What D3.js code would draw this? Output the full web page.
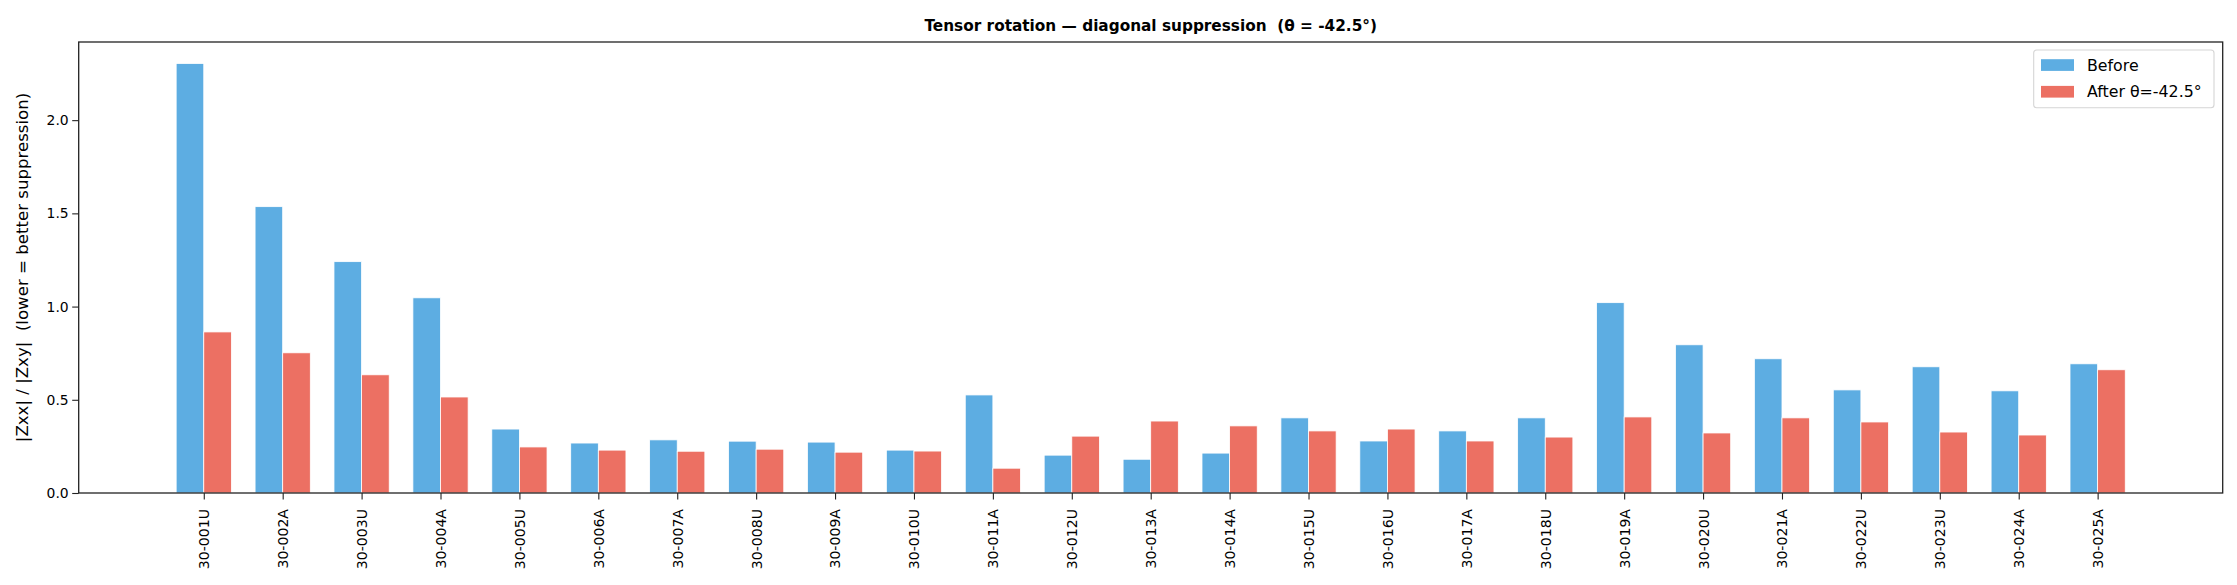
<html lang="en">
<head>
    <meta charset="UTF-8">
    <title>Tensor rotation</title>
    <script src="https://d3js.org/d3.v7.min.js"></script>
    <style>
        body { margin: 0; background: #fff; }
        text { font-family: "DejaVu Sans", sans-serif; fill: #000; }
    </style>
</head>
<body>
    <script>
        // Chart data
        const sites = ["30-001U", "30-002A", "30-003U", "30-004A", "30-005U", "30-006A", "30-007A",
                       "30-008U", "30-009A", "30-010U", "30-011A", "30-012U", "30-013A", "30-014A",
                       "30-015U", "30-016U", "30-017A", "30-018U", "30-019A", "30-020U", "30-021A",
                       "30-022U", "30-023U", "30-024A", "30-025A"];
        const before = [2.304, 1.536, 1.241, 1.047, 0.343, 0.268, 0.285, 0.278, 0.273, 0.230, 0.526,
                        0.203, 0.181, 0.214, 0.403, 0.279, 0.333, 0.403, 1.021, 0.795, 0.720, 0.553,
                        0.677, 0.548, 0.693];
        const after = [0.864, 0.752, 0.634, 0.515, 0.247, 0.230, 0.224, 0.235, 0.219, 0.225, 0.133,
                       0.305, 0.386, 0.360, 0.333, 0.343, 0.279, 0.300, 0.408, 0.322, 0.403, 0.381,
                       0.327, 0.311, 0.661];
        const seriesNames = ["Before", "After θ=-42.5°"];
        const yTicks = [0, 0.5, 1.0, 1.5, 2.0];

        const w = 2237;
        const h = 585;
        const plotL = 78.7, plotR = 2222.7, plotT = 42, plotB = 493;
        const barW = 0.35;
        const colors = ["#5dade2", "#ec7063"];
        const fs = 13.9;

        const svg = d3.select("body").append("svg")
            .attr("width", w)
            .attr("height", h);

        // matplotlib style margins: 5% of data range on each side
        const xMin = -barW, xMax = sites.length - 1 + barW;
        const xPad = (xMax - xMin) * 0.05;
        const xScale = d3.scaleLinear()
            .domain([xMin - xPad, xMax + xPad])
            .range([plotL, plotR]);

        const yMax = d3.max(before.concat(after)) * 1.05;
        const yScale = d3.scaleLinear()
            .domain([0, yMax])
            .range([plotB, plotT]);

        // Bars
        const groups = [before, after];
        groups.forEach((vals, s) => {
            svg.append("g")
                .selectAll("rect")
                .data(vals)
                .enter()
                .append("rect")
                .attr("x", (d, i) => xScale(s === 0 ? i - barW : i))
                .attr("y", d => yScale(d))
                .attr("width", xScale(barW) - xScale(0))
                .attr("height", d => yScale(0) - yScale(d))
                .attr("fill", colors[s])
                .attr("stroke", "#fff")
                .attr("stroke-width", 0.8);
        });

        // Axes
        const xAxis = d3.axisBottom(xScale)
            .tickValues(d3.range(sites.length))
            .tickFormat(i => sites[i])
            .tickSize(6.5)
            .tickSizeOuter(0);
        const gx = svg.append("g")
            .attr("transform", `translate(0, ${plotB})`)
            .call(xAxis);
        gx.select(".domain").remove();
        gx.selectAll(".tick line").attr("stroke", "#222").attr("stroke-width", 1.1);
        gx.selectAll(".tick text")
            .attr("font-size", 14.1)
            .attr("font-family", "DejaVu Sans")
            .attr("fill", "#000")
            .attr("text-anchor", "end")
            .attr("transform", "rotate(-90)")
            .attr("x", -16)
            .attr("y", 0)
            .attr("dy", "0.35em");

        const yAxis = d3.axisLeft(yScale)
            .tickValues(yTicks)
            .tickFormat(d3.format(".1f"))
            .tickSize(6.5)
            .tickSizeOuter(0);
        const gy = svg.append("g")
            .attr("transform", `translate(${plotL}, 0)`)
            .call(yAxis);
        gy.select(".domain").remove();
        gy.selectAll(".tick line").attr("stroke", "#222").attr("stroke-width", 1.1);
        gy.selectAll(".tick text")
            .attr("font-size", fs)
            .attr("font-family", "DejaVu Sans")
            .attr("fill", "#000")
            .attr("x", -10);

        // Frame
        svg.append("rect")
            .attr("x", plotL)
            .attr("y", plotT)
            .attr("width", plotR - plotL)
            .attr("height", plotB - plotT)
            .attr("fill", "none")
            .attr("stroke", "#222")
            .attr("stroke-width", 1.3);

        // Title and y label
        svg.append("text")
            .attr("x", (plotL + plotR) / 2)
            .attr("y", 30.5)
            .attr("text-anchor", "middle")
            .attr("font-size", 15.3)
            .attr("font-weight", "bold")
            .style("white-space", "pre")
            .text("Tensor rotation — diagonal suppression  (θ = -42.5°)");

        svg.append("text")
            .attr("transform", `translate(28, ${(plotT + plotB) / 2}) rotate(-90)`)
            .attr("text-anchor", "middle")
            .attr("font-size", 16.6)
            .style("white-space", "pre")
            .text("|Zxx| / |Zxy|  (lower = better suppression)");

        // Legend
        const legend = svg.append("g").attr("transform", "translate(2033.7, 50)");
        legend.append("rect")
            .attr("width", 180.3)
            .attr("height", 57.7)
            .attr("rx", 3)
            .attr("fill", "#fff")
            .attr("fill-opacity", 0.8)
            .attr("stroke", "#d5d5d5")
            .attr("stroke-width", 1.1);
        seriesNames.forEach((name, i) => {
            const row = legend.append("g").attr("transform", `translate(0, ${15 + i * 26.7})`);
            row.append("rect")
                .attr("x", 7.3)
                .attr("y", -5.8)
                .attr("width", 33)
                .attr("height", 11.7)
                .attr("fill", colors[i]);
            row.append("text")
                .attr("x", 53.3)
                .attr("y", 0)
                .attr("dy", "0.36em")
                .attr("font-size", 15.8)
                .text(name);
        });
    </script>
</body>
</html>
